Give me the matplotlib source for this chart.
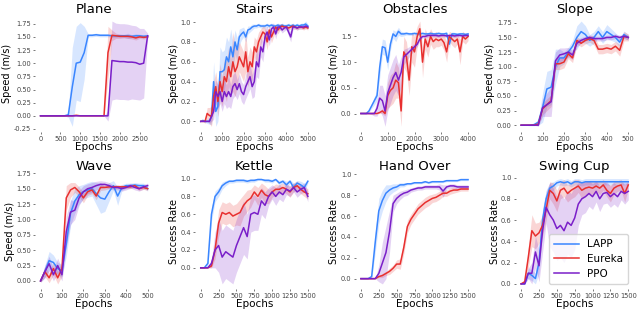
import matplotlib.pyplot as plt
import numpy as np

# colours per method
COLORS = {"LAPP": "#3a86ff", "Eureka": "#e8302f", "PPO": "#7a1fc9"}

# ---- Plane ----
plane_x = list(range(0, 2800, 100))
plane_lapp = [0, 0, 0, 0, 0, 0, 0, 0.02, 0.55, 1.0, 1.02, 1.2, 1.53, 1.53, 1.54, 1.53, 1.53, 1.53, 1.52, 1.52,
              1.52, 1.52, 1.52, 1.51, 1.52, 1.52, 1.51, 1.52]
plane_lapp_sd = [0, 0, 0, 0, 0, 0, 0, 0.05, 0.75, 0.7, 0.75, 0.5, 0.03, 0.03, 0.03, 0.03, 0.03, 0.03, 0.03, 0.03,
                 0.03, 0.03, 0.05, 0.03, 0.04, 0.03, 0.03, 0.03]
plane_eureka = [0, 0, 0, 0, 0, 0, 0, 0, 0, 0.01, 0, 0, 0, 0, 0, 0, 0.0, 1.2, 1.53, 1.52, 1.51, 1.51, 1.51, 1.5,
                1.48, 1.5, 1.49, 1.5]
plane_eureka_sd = [0, 0, 0, 0, 0, 0, 0, 0, 0, 0, 0, 0, 0, 0, 0, 0, 0, 0.5, 0.1, 0.05, 0.04, 0.03, 0.04, 0.04,
                   0.04, 0.03, 0.03, 0.03]
plane_ppo = [0, 0, 0, 0, 0, 0, 0, 0, 0, 0, 0, 0, 0, 0, 0, 0, 0, 0.0, 1.05, 1.04, 1.03, 1.03, 1.02, 1.02,
             1.01, 0.98, 1.0, 1.52]
plane_ppo_sd = [0, 0, 0, 0, 0, 0, 0, 0, 0, 0, 0, 0, 0, 0, 0, 0, 0, 0.1, 0.75, 0.72, 0.72, 0.72, 0.72, 0.7,
                0.7, 0.68, 0.66, 0.05]

# ---- Stairs ----
stairs_x = list(range(0, 5100, 100))
stairs_lapp = [0, 0.01, 0, 0, 0, 0.05, 0.4, 0.1, 0.15, 0.5, 0.5, 0.52, 0.65, 0.6, 0.75, 0.65, 0.8, 0.72, 0.85,
               0.88, 0.9, 0.85, 0.92, 0.93, 0.95, 0.96, 0.96, 0.97, 0.96, 0.96, 0.96, 0.97, 0.96, 0.97, 0.96,
               0.96, 0.97, 0.96, 0.97, 0.96, 0.96, 0.97, 0.96, 0.97, 0.96, 0.97, 0.96, 0.97, 0.97, 0.98, 0.96]
stairs_lapp_sd = [0, 0.01, 0.01, 0.02, 0.03, 0.08, 0.2, 0.15, 0.15, 0.25, 0.2, 0.2, 0.2, 0.2, 0.18, 0.15, 0.12,
                  0.12, 0.08, 0.06, 0.05, 0.05, 0.04, 0.03, 0.03, 0.02, 0.02, 0.02, 0.02, 0.02, 0.02, 0.02,
                  0.02, 0.02, 0.02, 0.02, 0.02, 0.02, 0.02, 0.02, 0.02, 0.02, 0.02, 0.02, 0.02, 0.02, 0.02,
                  0.02, 0.02, 0.03, 0.02]
stairs_eureka = [0, 0, 0, 0.08, 0.06, 0.05, 0.25, 0.35, 0.2, 0.4, 0.3, 0.45, 0.4, 0.55, 0.45, 0.6, 0.5, 0.55,
                 0.65, 0.6, 0.55, 0.7, 0.5, 0.6, 0.55, 0.75, 0.7, 0.8, 0.85, 0.9, 0.88, 0.8, 0.92, 0.85, 0.9,
                 0.95, 0.92, 0.95, 0.96, 0.95, 0.95, 0.94, 0.95, 0.96, 0.95, 0.94, 0.95, 0.95, 0.94, 0.95, 0.94]
stairs_eureka_sd = [0, 0, 0.02, 0.06, 0.08, 0.1, 0.15, 0.15, 0.15, 0.18, 0.15, 0.18, 0.2, 0.2, 0.18, 0.3, 0.25,
                    0.2, 0.15, 0.15, 0.15, 0.2, 0.15, 0.15, 0.15, 0.1, 0.12, 0.1, 0.08, 0.06, 0.07, 0.08,
                    0.05, 0.06, 0.05, 0.03, 0.04, 0.03, 0.02, 0.02, 0.02, 0.02, 0.02, 0.02, 0.02, 0.02, 0.02,
                    0.02, 0.02, 0.02, 0.02]
stairs_ppo = [0, 0, 0, 0, 0, 0.05, 0.1, 0.3, 0.25, 0.3, 0.2, 0.3, 0.25, 0.3, 0.25, 0.35, 0.38, 0.32, 0.38, 0.3,
              0.27, 0.35, 0.4, 0.45, 0.35, 0.4, 0.6, 0.55, 0.75, 0.7, 0.85, 0.9, 0.82, 0.93, 0.95, 0.88, 0.95,
              0.95, 0.92, 0.94, 0.95, 0.9, 0.85, 0.95, 0.95, 0.94, 0.95, 0.95, 0.95, 0.96, 0.95]
stairs_ppo_sd = [0, 0, 0, 0, 0.02, 0.05, 0.08, 0.12, 0.12, 0.12, 0.1, 0.12, 0.12, 0.15, 0.12, 0.12, 0.12, 0.1,
                 0.1, 0.1, 0.1, 0.12, 0.12, 0.12, 0.12, 0.15, 0.15, 0.12, 0.1, 0.1, 0.08, 0.06, 0.06, 0.05,
                 0.04, 0.05, 0.03, 0.03, 0.03, 0.03, 0.03, 0.04, 0.05, 0.03, 0.02, 0.02, 0.02, 0.02, 0.02,
                 0.02, 0.02]

# ---- Obstacles ----
obst_x = list(range(0, 4100, 100))
obst_lapp = [0, 0, 0, 0.05, 0.15, 0.25, 0.35, 0.9, 1.3, 1.28, 1.0, 1.35, 1.55, 1.5, 1.6, 1.55, 1.55, 1.56, 1.55,
             1.55, 1.56, 1.55, 1.55, 1.56, 1.55, 1.55, 1.56, 1.55, 1.55, 1.56, 1.55, 1.55, 1.56, 1.35, 1.55,
             1.55, 1.54, 1.55, 1.55, 1.54, 1.55]
obst_lapp_sd = [0, 0, 0.01, 0.03, 0.05, 0.08, 0.1, 0.2, 0.15, 0.15, 0.15, 0.12, 0.08, 0.1, 0.08, 0.05, 0.04,
                0.03, 0.03, 0.03, 0.03, 0.03, 0.03, 0.03, 0.03, 0.03, 0.03, 0.03, 0.03, 0.03, 0.03, 0.03, 0.04,
                0.1, 0.04, 0.03, 0.03, 0.03, 0.03, 0.03, 0.03]
obst_eureka = [0, 0, 0, 0, 0, 0, 0, 0.02, 0.05, 0.0, 0.35, 0.45, 0.5, 0.65, 0.6, 0.05, 1.2, 1.1, 0.65, 1.3, 1.2,
               1.5, 1.65, 1.0, 1.45, 1.3, 1.5, 1.4, 1.45, 1.42, 1.45, 1.38, 1.2, 1.5, 1.45, 1.4, 1.45, 1.2, 1.5,
               1.45, 1.5]
obst_eureka_sd = [0, 0, 0, 0, 0, 0, 0, 0.02, 0.05, 0.05, 0.25, 0.3, 0.3, 0.35, 0.3, 0.3, 0.3, 0.3, 0.3, 0.3,
                  0.3, 0.2, 0.15, 0.3, 0.2, 0.2, 0.15, 0.15, 0.15, 0.12, 0.12, 0.15, 0.2, 0.1, 0.12, 0.12, 0.1,
                  0.25, 0.1, 0.1, 0.08]
obst_ppo = [0, 0, 0, 0, 0, 0, 0.1, 0.3, 0.25, 0.05, 0.4, 0.55, 0.7, 0.8, 0.65, 0.8, 1.1, 1.15, 1.2, 1.25, 1.3,
            1.35, 1.45, 1.5, 1.5, 1.52, 1.52, 1.52, 1.52, 1.51, 1.52, 1.52, 1.51, 1.52, 1.52, 1.51, 1.52, 1.52,
            1.51, 1.52, 1.52]
obst_ppo_sd = [0, 0, 0, 0, 0.02, 0.05, 0.15, 0.25, 0.3, 0.3, 0.35, 0.35, 0.35, 0.35, 0.3, 0.3, 0.15, 0.12, 0.1,
               0.08, 0.06, 0.05, 0.04, 0.03, 0.03, 0.03, 0.03, 0.03, 0.03, 0.03, 0.03, 0.03, 0.03, 0.03, 0.03,
               0.03, 0.03, 0.03, 0.03, 0.03, 0.03]

# ---- Slope ----
slope_x = list(range(0, 520, 20))
slope_lapp = [0, 0, 0, 0.01, 0.05, 0.3, 0.62, 0.65, 1.0, 1.15, 1.15, 1.25, 1.35, 1.5, 1.6, 1.55, 1.45, 1.5, 1.6,
              1.5, 1.6, 1.55, 1.5, 1.42, 1.55, 1.5]
slope_lapp_sd = [0, 0, 0.01, 0.02, 0.05, 0.25, 0.3, 0.3, 0.3, 0.15, 0.1, 0.08, 0.1, 0.2, 0.18, 0.15, 0.1, 0.1,
                 0.1, 0.1, 0.12, 0.1, 0.08, 0.08, 0.06, 0.05]
slope_eureka = [0, 0, 0, 0, 0.02, 0.28, 0.35, 0.42, 1.05, 1.05, 1.08, 1.22, 1.15, 1.45, 1.4, 1.45, 1.48, 1.45,
                1.3, 1.3, 1.32, 1.3, 1.35, 1.28, 1.52, 1.5]
slope_eureka_sd = [0, 0, 0, 0, 0.02, 0.1, 0.1, 0.1, 0.1, 0.1, 0.1, 0.08, 0.08, 0.06, 0.06, 0.06, 0.06, 0.08,
                   0.08, 0.08, 0.08, 0.08, 0.08, 0.1, 0.08, 0.06]
slope_ppo = [0, 0, 0, 0, 0, 0.3, 0.35, 0.4, 1.1, 1.2, 1.22, 1.25, 1.2, 1.4, 1.45, 1.48, 1.5, 1.48, 1.48, 1.48,
             1.5, 1.5, 1.52, 1.5, 1.52, 1.5]
slope_ppo_sd = [0, 0, 0, 0, 0.02, 0.15, 0.2, 0.25, 0.15, 0.12, 0.1, 0.08, 0.08, 0.06, 0.05, 0.04, 0.04, 0.04,
                0.04, 0.04, 0.04, 0.04, 0.04, 0.04, 0.04, 0.04]

# ---- Wave ----
wave_x = list(range(0, 520, 20))
wave_lapp = [0, 0.15, 0.33, 0.3, 0.2, 0.17, 0.6, 1.1, 1.3, 1.4, 1.45, 1.48, 1.5, 1.42, 1.35, 1.33, 1.45, 1.55,
             1.38, 1.52, 1.55, 1.55, 1.56, 1.55, 1.55, 1.5]
wave_lapp_sd = [0.02, 0.1, 0.15, 0.12, 0.1, 0.1, 0.2, 0.2, 0.2, 0.15, 0.12, 0.12, 0.12, 0.18, 0.25, 0.2, 0.15,
                0.08, 0.15, 0.05, 0.04, 0.04, 0.04, 0.04, 0.04, 0.04]
wave_eureka = [0, 0.15, 0.05, 0.2, 0.05, 0.2, 1.35, 1.48, 1.52, 1.45, 1.35, 1.45, 1.48, 1.38, 1.52, 1.52, 1.53,
               1.53, 1.53, 1.53, 1.53, 1.53, 1.55, 1.5, 1.52, 1.5]
wave_eureka_sd = [0.02, 0.08, 0.08, 0.1, 0.1, 0.12, 0.2, 0.12, 0.08, 0.08, 0.08, 0.06, 0.06, 0.06, 0.05, 0.04,
                  0.03, 0.03, 0.03, 0.03, 0.03, 0.03, 0.03, 0.03, 0.03, 0.03]
wave_ppo = [0, 0.15, 0.28, 0.1, 0.25, 0.1, 0.8, 1.12, 1.15, 1.35, 1.45, 1.5, 1.52, 1.55, 1.57, 1.57, 1.55, 1.52,
            1.52, 1.5, 1.52, 1.55, 1.52, 1.5, 1.53, 1.55]
wave_ppo_sd = [0.02, 0.1, 0.12, 0.1, 0.12, 0.1, 0.25, 0.2, 0.15, 0.12, 0.1, 0.08, 0.08, 0.07, 0.06, 0.05, 0.05,
               0.04, 0.04, 0.04, 0.04, 0.04, 0.04, 0.04, 0.04, 0.04]

# ---- Kettle / Hand Over / Swing Cup share the same epochs ----
manip_x = list(range(0, 1550, 50))

kettle_lapp = [0, 0, 0.05, 0.6, 0.8, 0.85, 0.92, 0.95, 0.97, 0.97, 0.98, 0.98, 0.98, 0.97, 0.98, 0.98, 0.99,
               0.99, 0.98, 0.98, 0.97, 0.99, 0.95, 0.97, 0.93, 0.97, 0.9, 0.95, 0.93, 0.9, 0.97]
kettle_lapp_sd = [0, 0, 0.03, 0.08, 0.06, 0.05, 0.04, 0.03, 0.02, 0.02, 0.02, 0.02, 0.02, 0.02, 0.02, 0.02,
                  0.01, 0.01, 0.02, 0.02, 0.02, 0.01, 0.03, 0.02, 0.04, 0.02, 0.05, 0.03, 0.04, 0.05, 0.02]
kettle_eureka = [0, 0, 0, 0.02, 0.2, 0.5, 0.62, 0.6, 0.62, 0.58, 0.6, 0.62, 0.7, 0.75, 0.78, 0.85, 0.8, 0.87,
                 0.82, 0.8, 0.85, 0.88, 0.88, 0.9, 0.88, 0.85, 0.9, 0.92, 0.88, 0.85, 0.83]
kettle_eureka_sd = [0, 0, 0, 0.02, 0.1, 0.15, 0.12, 0.12, 0.12, 0.12, 0.12, 0.15, 0.12, 0.12, 0.1, 0.08, 0.1,
                    0.08, 0.1, 0.08, 0.06, 0.06, 0.05, 0.05, 0.05, 0.06, 0.05, 0.05, 0.05, 0.05, 0.06]
kettle_ppo = [0, 0, 0, 0.05, 0.2, 0.25, 0.12, 0.18, 0.15, 0.12, 0.25, 0.35, 0.45, 0.35, 0.6, 0.62, 0.6, 0.75,
              0.7, 0.8, 0.85, 0.8, 0.85, 0.82, 0.88, 0.86, 0.9, 0.85, 0.88, 0.9, 0.8]
kettle_ppo_sd = [0, 0, 0, 0.05, 0.2, 0.3, 0.3, 0.3, 0.3, 0.3, 0.3, 0.3, 0.3, 0.25, 0.2, 0.2, 0.18, 0.15, 0.15,
                 0.1, 0.08, 0.1, 0.08, 0.08, 0.06, 0.06, 0.05, 0.06, 0.05, 0.05, 0.06]

hand_lapp = [0, 0, 0, 0.02, 0.35, 0.65, 0.75, 0.82, 0.85, 0.87, 0.88, 0.9, 0.9, 0.91, 0.91, 0.92, 0.92, 0.92,
             0.93, 0.92, 0.93, 0.93, 0.93, 0.93, 0.94, 0.94, 0.94, 0.94, 0.95, 0.95, 0.95]
hand_lapp_sd = [0, 0, 0, 0.02, 0.1, 0.12, 0.1, 0.08, 0.05, 0.04, 0.03, 0.02, 0.02, 0.01, 0.01, 0.01, 0.01, 0.01,
                0.01, 0.01, 0.01, 0.01, 0.01, 0.01, 0.01, 0.01, 0.01, 0.01, 0.01, 0.01, 0.01]
hand_eureka = [0, 0, 0, 0, 0, 0.02, 0.03, 0.05, 0.07, 0.1, 0.14, 0.14, 0.3, 0.5, 0.57, 0.62, 0.67, 0.7, 0.73,
               0.75, 0.77, 0.78, 0.8, 0.82, 0.82, 0.84, 0.85, 0.85, 0.86, 0.86, 0.86]
hand_eureka_sd = [0, 0, 0, 0, 0, 0.01, 0.02, 0.02, 0.03, 0.03, 0.04, 0.05, 0.06, 0.06, 0.05, 0.05, 0.05, 0.05,
                  0.05, 0.05, 0.04, 0.04, 0.04, 0.03, 0.03, 0.03, 0.03, 0.02, 0.02, 0.02, 0.02]
hand_ppo = [0, 0, 0, 0, 0, 0.05, 0.15, 0.25, 0.45, 0.72, 0.77, 0.8, 0.82, 0.83, 0.85, 0.86, 0.87, 0.87, 0.88,
            0.88, 0.88, 0.88, 0.88, 0.84, 0.88, 0.89, 0.89, 0.88, 0.88, 0.88, 0.88]
hand_ppo_sd = [0, 0, 0, 0, 0, 0.08, 0.2, 0.25, 0.2, 0.08, 0.05, 0.04, 0.03, 0.03, 0.02, 0.02, 0.02, 0.02, 0.02,
               0.02, 0.02, 0.02, 0.03, 0.06, 0.02, 0.02, 0.02, 0.02, 0.02, 0.02, 0.02]

swing_lapp = [0, 0, 0.1, 0.08, 0.05, 0.2, 0.6, 0.8, 0.9, 0.92, 0.95, 0.96, 0.95, 0.96, 0.94, 0.96, 0.96, 0.95,
              0.96, 0.96, 0.96, 0.96, 0.96, 0.96, 0.96, 0.96, 0.96, 0.96, 0.96, 0.96, 0.96]
swing_lapp_sd = [0, 0, 0.05, 0.05, 0.05, 0.1, 0.1, 0.08, 0.05, 0.04, 0.03, 0.03, 0.03, 0.03, 0.03, 0.03, 0.03,
                 0.03, 0.03, 0.03, 0.03, 0.03, 0.03, 0.03, 0.03, 0.03, 0.03, 0.03, 0.03, 0.03, 0.03]
swing_eureka = [0, 0.02, 0.25, 0.5, 0.45, 0.48, 0.55, 0.7, 0.88, 0.85, 0.78, 0.88, 0.9, 0.85, 0.88, 0.9, 0.92,
                0.88, 0.9, 0.91, 0.9, 0.92, 0.9, 0.93, 0.88, 0.85, 0.9, 0.92, 0.93, 0.85, 0.93]
swing_eureka_sd = [0, 0.02, 0.1, 0.15, 0.12, 0.1, 0.1, 0.1, 0.08, 0.1, 0.1, 0.08, 0.08, 0.08, 0.08, 0.08, 0.06,
                   0.08, 0.06, 0.06, 0.06, 0.05, 0.06, 0.05, 0.06, 0.08, 0.06, 0.05, 0.05, 0.08, 0.04]
swing_ppo = [0, 0, 0.1, 0.1, 0.3, 0.17, 0.5, 0.72, 0.65, 0.6, 0.52, 0.55, 0.5, 0.58, 0.55, 0.62, 0.75, 0.8,
             0.82, 0.85, 0.82, 0.87, 0.8, 0.85, 0.86, 0.82, 0.85, 0.82, 0.87, 0.85, 0.87]
swing_ppo_sd = [0, 0, 0.05, 0.1, 0.15, 0.15, 0.2, 0.15, 0.3, 0.3, 0.3, 0.3, 0.3, 0.3, 0.3, 0.3, 0.2, 0.15, 0.15,
                0.12, 0.12, 0.1, 0.12, 0.1, 0.1, 0.1, 0.1, 0.1, 0.08, 0.1, 0.08]

panels = [
    ("Plane", plane_x, [plane_lapp, plane_eureka, plane_ppo], [plane_lapp_sd, plane_eureka_sd, plane_ppo_sd],
     "Speed (m/s)", [0, 500, 1000, 1500, 2000, 2500], np.arange(-0.25, 1.76, 0.25), "{:.2f}"),
    ("Stairs", stairs_x, [stairs_lapp, stairs_eureka, stairs_ppo], [stairs_lapp_sd, stairs_eureka_sd, stairs_ppo_sd],
     "Speed (m/s)", [0, 1000, 2000, 3000, 4000, 5000], np.arange(0, 1.01, 0.2), "{:.1f}"),
    ("Obstacles", obst_x, [obst_lapp, obst_eureka, obst_ppo], [obst_lapp_sd, obst_eureka_sd, obst_ppo_sd],
     "Speed (m/s)", [0, 1000, 2000, 3000, 4000], np.arange(0, 1.51, 0.5), "{:.1f}"),
    ("Slope", slope_x, [slope_lapp, slope_eureka, slope_ppo], [slope_lapp_sd, slope_eureka_sd, slope_ppo_sd],
     "Speed (m/s)", [0, 100, 200, 300, 400, 500], np.arange(0, 1.76, 0.25), "{:.2f}"),
    ("Wave", wave_x, [wave_lapp, wave_eureka, wave_ppo], [wave_lapp_sd, wave_eureka_sd, wave_ppo_sd],
     "Speed (m/s)", [0, 100, 200, 300, 400, 500], np.arange(0, 1.76, 0.25), "{:.2f}"),
    ("Kettle", manip_x, [kettle_lapp, kettle_eureka, kettle_ppo], [kettle_lapp_sd, kettle_eureka_sd, kettle_ppo_sd],
     "Success Rate", [0, 250, 500, 750, 1000, 1250, 1500], np.arange(0, 1.01, 0.2), "{:.1f}"),
    ("Hand Over", manip_x, [hand_lapp, hand_eureka, hand_ppo], [hand_lapp_sd, hand_eureka_sd, hand_ppo_sd],
     "Success Rate", [0, 250, 500, 750, 1000, 1250, 1500], np.arange(0, 1.01, 0.2), "{:.1f}"),
    ("Swing Cup", manip_x, [swing_lapp, swing_eureka, swing_ppo], [swing_lapp_sd, swing_eureka_sd, swing_ppo_sd],
     "Success Rate", [0, 250, 500, 750, 1000, 1250, 1500], np.arange(0, 1.01, 0.2), "{:.1f}"),
]

methods = ["LAPP", "Eureka", "PPO"]

fig, axes = plt.subplots(2, 4, figsize=(6.4, 3.16), dpi=100)
fig.subplots_adjust(left=0.055, right=0.99, top=0.95, bottom=0.085, wspace=0.36, hspace=0.36)

for ax, (title, x, means, sds, ylabel, xticks, yticks, fmt) in zip(axes.flat, panels):
    x = np.array(x)
    for name, m, s in zip(methods, means, sds):
        m = np.array(m)
        s = np.array(s)
        ax.fill_between(x, m - s, m + s, color=COLORS[name], alpha=0.2, linewidth=0)
        ax.plot(x, m, color=COLORS[name], linewidth=1.1, label=name)
    ax.set_title(title, fontsize=9.5, pad=2)
    ax.set_xlabel("Epochs", fontsize=7.5, labelpad=0)
    ax.set_ylabel(ylabel, fontsize=7, labelpad=1)
    ax.set_xticks(xticks)
    ax.set_yticks(yticks)
    ax.set_yticklabels([fmt.format(v) for v in yticks])
    ax.tick_params(labelsize=4.8, length=1.5, width=0.5, pad=1.5, colors="#444444")
    for sp in ax.spines.values():
        sp.set_visible(False)

axes[1, 3].legend(loc="lower right", fontsize=7.5, frameon=True, fancybox=True, handlelength=2.4,
                  borderpad=0.5, labelspacing=0.45)

fig.savefig("out.png", dpi=100)
